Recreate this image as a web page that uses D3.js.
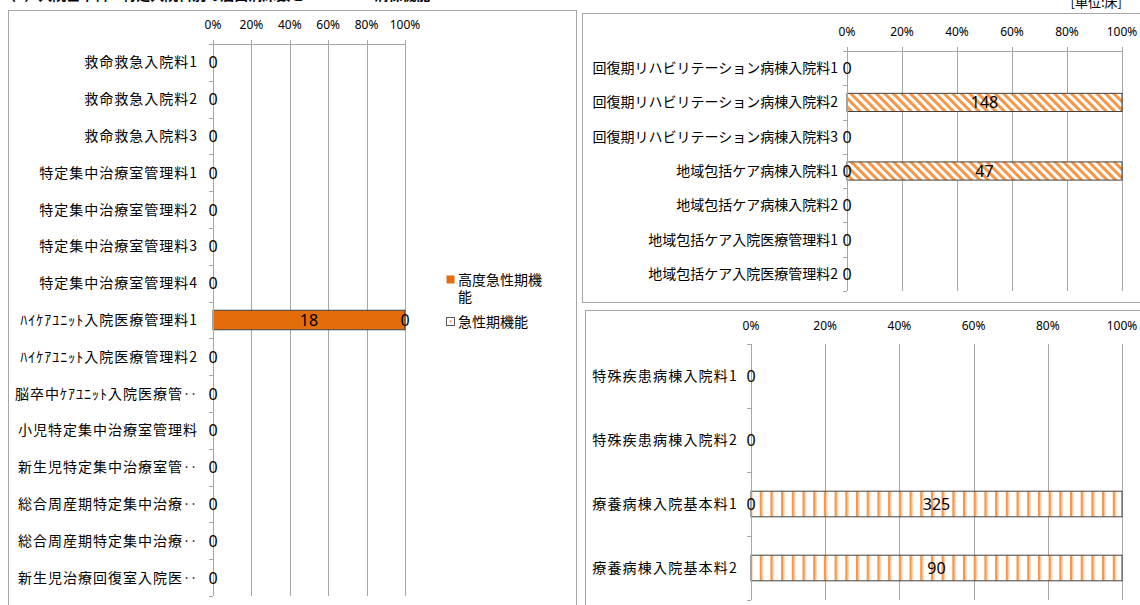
<!DOCTYPE html>
<html>
<head>
<meta charset="utf-8">
<script src="https://cdn.jsdelivr.net/npm/d3@7"></script>
<style>
  body { margin: 0; background: #fff; }
  svg { display: block; }
</style>
</head>
<body>
<div id="chart"></div>
<script>
// ---- data ----
const acuteCats = [
  "救命救急入院料1", "救命救急入院料2", "救命救急入院料3",
  "特定集中治療室管理料1", "特定集中治療室管理料2", "特定集中治療室管理料3", "特定集中治療室管理料4",
  "ﾊｲｹｱﾕﾆｯﾄ入院医療管理料1", "ﾊｲｹｱﾕﾆｯﾄ入院医療管理料2", "脳卒中ｹｱﾕﾆｯﾄ入院医療管‥",
  "小児特定集中治療室管理料", "新生児特定集中治療室管‥", "総合周産期特定集中治療‥",
  "総合周産期特定集中治療‥", "新生児治療回復室入院医‥"
]
const highAcuteValues = [0, 0, 0, 0, 0, 0, 0, 18, 0, 0, 0, 0, 0, 0, 0]
const acuteValues     = [0, 0, 0, 0, 0, 0, 0, 0, 0, 0, 0, 0, 0, 0, 0]

const recoveryCats = [
  "回復期リハビリテーション病棟入院料1", "回復期リハビリテーション病棟入院料2",
  "回復期リハビリテーション病棟入院料3", "地域包括ケア病棟入院料1",
  "地域包括ケア病棟入院料2", "地域包括ケア入院医療管理料1", "地域包括ケア入院医療管理料2"
]
const recoveryAcuteValues = [null, null, null, 0, null, null, null]
const recoveryValues      = [0, 148, 0, 47, 0, 0, 0]

const chronicCats = ["特殊疾患病棟入院料1", "特殊疾患病棟入院料2", "療養病棟入院基本料1", "療養病棟入院基本料2"]
const chronicOtherValues = [null, null, 0, null]
const chronicValues      = [0, 0, 325, 90]

const pctTicks = [0, 0.2, 0.4, 0.6, 0.8, 1]
const legendNames = ["高度急性期機能", "急性期機能"]

const jpFont = "'Noto Sans CJK JP', 'Noto Sans', sans-serif"
const numFont = "'Noto Sans', 'Liberation Sans', sans-serif"
const gridColor = "#a6a6a6"

const svg = d3.select("#chart").append("svg")
  .attr("width", 1140)
  .attr("height", 605)

// patterns
const defs = svg.append("defs")

const diag = defs.append("pattern")
  .attr("id", "diag")
  .attr("patternUnits", "userSpaceOnUse")
  .attr("width", 6).attr("height", 6)
  .attr("patternTransform", "rotate(-45)")
diag.append("rect").attr("width", 6).attr("height", 6).attr("fill", "#fff")
diag.append("rect").attr("width", 3).attr("height", 6).attr("fill", "#f79646")

const vert = defs.append("pattern")
  .attr("id", "vert")
  .attr("patternUnits", "userSpaceOnUse")
  .attr("width", 10.7).attr("height", 10)
vert.append("rect").attr("width", 10.7).attr("height", 10).attr("fill", "#fff")
vert.append("rect").attr("width", 2).attr("height", 10).attr("fill", "#f79646")
vert.append("rect").attr("x", 2).attr("width", 1.5).attr("height", 10).attr("fill", "#fbc9a0")

const dots = defs.append("pattern")
  .attr("id", "dots")
  .attr("patternUnits", "userSpaceOnUse")
  .attr("width", 4).attr("height", 4)
dots.append("rect").attr("width", 4).attr("height", 4).attr("fill", "#fff")
dots.append("rect").attr("x", 1).attr("y", 1).attr("width", 2).attr("height", 2).attr("fill", "#f79646")

// title (cut off at the top in the original) and unit
svg.append("text")
  .attr("x", 2).attr("y", 0)
  .style("font-family", jpFont).style("font-size", "14px").style("font-weight", "bold")
  .text("（4）入院基本料・特定入院料別の届出病床数と　　　　　病棟機能")

svg.append("text")
  .attr("x", 1122).attr("y", 7)
  .attr("text-anchor", "end")
  .style("font-family", jpFont).style("font-size", "13px")
  .text("[単位:床]")

// panel frames
const frames = [
  [8.5, 10.5, 568, 600],
  [582.5, 13.5, 570, 289],
  [585.5, 310.5, 570, 300]
]
svg.selectAll(".frame")
  .data(frames)
  .enter().append("rect")
    .attr("class", "frame")
    .attr("x", d => d[0]).attr("y", d => d[1])
    .attr("width", d => d[2]).attr("height", d => d[3])
    .attr("fill", "#fff")
    .attr("stroke", "#a6a6a6")

function drawChart(opt) {
  const idx = d3.range(opt.cats.length)
  const x = d3.scaleLinear().domain([0, 1]).range(opt.xRange)
  const y = d3.scaleBand()
    .domain(idx)
    .range([opt.top, opt.bottom])
    .paddingInner(opt.padding)
    .paddingOuter(opt.padding / 2)

  const g = svg.append("g")

  // gridlines
  g.selectAll(".grid")
    .data(pctTicks)
    .enter().append("line")
      .attr("x1", d => Math.round(x(d)) + 0.5).attr("x2", d => Math.round(x(d)) + 0.5)
      .attr("y1", opt.top - (opt.topLine ? 4 : 0)).attr("y2", opt.bottom)
      .attr("stroke", gridColor)

  if (opt.topLine) {
    g.append("line")
      .attr("x1", x(0)).attr("x2", x(1))
      .attr("y1", opt.top + 0.5).attr("y2", opt.top + 0.5)
      .attr("stroke", gridColor)
  }

  // tick labels
  g.selectAll(".tick")
    .data(pctTicks)
    .enter().append("text")
      .attr("x", d => x(d))
      .attr("y", opt.tickY + 4)
      .attr("text-anchor", "middle")
      .style("font-family", numFont)
      .style("font-size", "12px")
      .text(d => d3.format(".0%")(d))

  // category axis ticks at band borders
  const step = y.step()
  const borders = d3.range(opt.cats.length + 1).map(i => opt.top + i * step)
  g.selectAll(".ytick")
    .data(borders)
    .enter().append("line")
      .attr("x1", x(0) - 4).attr("x2", x(0))
      .attr("y1", d => Math.round(d) + 0.5).attr("y2", d => Math.round(d) + 0.5)
      .attr("stroke", gridColor)

  // stacked bars (100%)
  const totals = idx.map(i => d3.sum(opt.series, s => s.values[i] || 0))
  const labels = []
  idx.forEach(i => {
    let cum = 0
    opt.series.forEach(s => {
      const v = s.values[i]
      if (v === null) return
      const p = totals[i] > 0 ? v / totals[i] : 0
      if (v > 0) {
        g.append("rect")
          .attr("x", x(cum))
          .attr("y", y(i))
          .attr("width", x(cum + p) - x(cum))
          .attr("height", y.bandwidth())
          .attr("fill", s.fill)
          .attr("stroke", "#404040")
          .attr("stroke-width", 1)
      }
      const lx = x(cum + p / 2), ly = y(i) + y.bandwidth() / 2
      // identical zero labels of a row sit on top of each other; keep one
      if (!labels.some(l => l.v === v && Math.abs(l.x - lx) < 1 && l.y === ly)) {
        labels.push({ x: lx, y: ly, v: v })
      }
      cum += p
    })
  })

  // y axis line
  g.append("line")
    .attr("x1", Math.round(x(0)) + 0.5).attr("x2", Math.round(x(0)) + 0.5)
    .attr("y1", opt.top).attr("y2", opt.bottom)
    .attr("stroke", gridColor)

  g.selectAll(".val")
    .data(labels)
    .enter().append("text")
      .attr("x", d => d.x)
      .attr("y", d => d.y + 6)
      .attr("text-anchor", "middle")
      .style("font-family", numFont)
      .style("font-size", "16px")
      .text(d => d.v)

  // category labels
  g.selectAll(".cat")
    .data(idx)
    .enter().append("text")
      .attr("x", opt.labelRight)
      .attr("y", i => y(i) + y.bandwidth() / 2 + 5)
      .attr("text-anchor", "end")
      .style("font-family", jpFont)
      .style("font-size", "14px")
      .style("letter-spacing", opt.spacing + "px")
      .text(i => opt.cats[i])
}

drawChart({
  cats: acuteCats,
  series: [
    { values: highAcuteValues, fill: "#e46c0a" },
    { values: acuteValues, fill: "url(#dots)" }
  ],
  xRange: [213, 405], top: 44, bottom: 596, padding: 0.47,
  tickY: 25, labelRight: 198, spacing: 1, topLine: true
})

drawChart({
  cats: recoveryCats,
  series: [
    { values: recoveryAcuteValues, fill: "url(#dots)" },
    { values: recoveryValues, fill: "url(#diag)" }
  ],
  xRange: [847, 1122], top: 51, bottom: 291, padding: 0.47,
  tickY: 32, labelRight: 838, spacing: 0, topLine: true
})

drawChart({
  cats: chronicCats,
  series: [
    { values: chronicOtherValues, fill: "url(#dots)" },
    { values: chronicValues, fill: "url(#vert)" }
  ],
  xRange: [751, 1122], top: 344, bottom: 600, padding: 0.6,
  tickY: 326, labelRight: 738, spacing: 1.2, topLine: false
})

// legend (left chart)
const legend = svg.append("g").attr("transform", "translate(446, 0)")
legend.append("rect")
  .attr("x", 0.5).attr("y", 275.5).attr("width", 8).attr("height", 8)
  .attr("fill", "#e46c0a")
legend.append("rect")
  .attr("x", 0.5).attr("y", 317.5).attr("width", 8).attr("height", 8)
  .attr("fill", "#fff").attr("stroke", "#595959")
legend.append("rect")
  .attr("x", 3.5).attr("y", 320.5).attr("width", 2).attr("height", 2)
  .attr("fill", "#f79646")
legend.append("text")
  .attr("x", 12).attr("y", 285)
  .style("font-family", jpFont).style("font-size", "14px")
  .text(legendNames[0].slice(0, 6))
legend.append("text")
  .attr("x", 12).attr("y", 302)
  .style("font-family", jpFont).style("font-size", "14px")
  .text(legendNames[0].slice(6))
legend.append("text")
  .attr("x", 12).attr("y", 327)
  .style("font-family", jpFont).style("font-size", "14px")
  .text(legendNames[1])
</script>
</body>
</html>
